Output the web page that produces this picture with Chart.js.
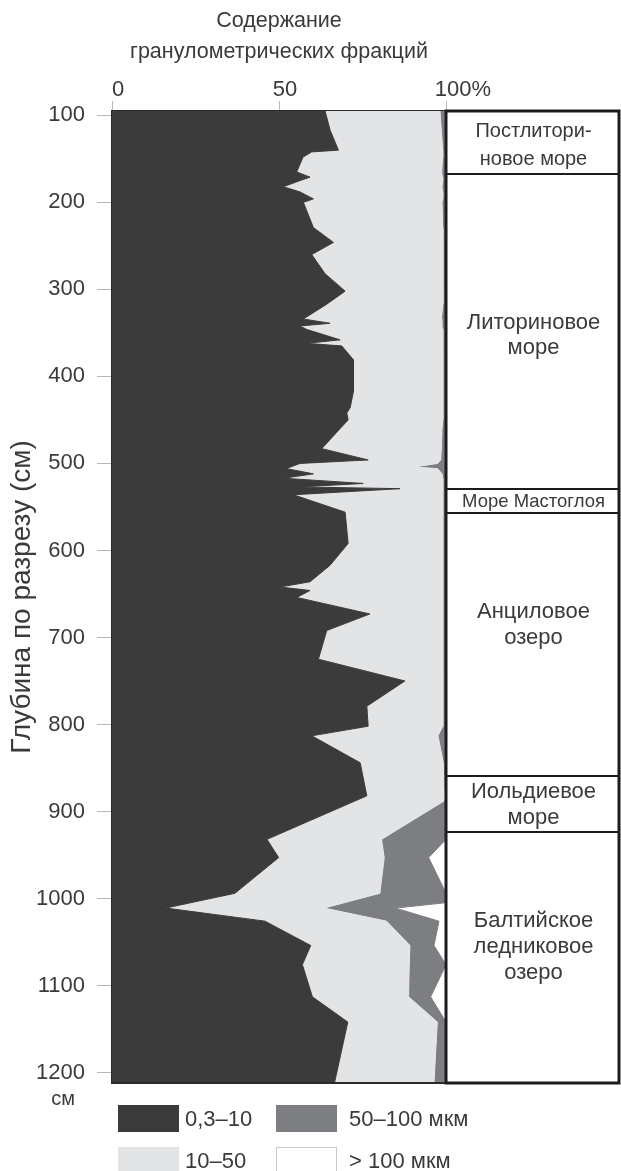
<!DOCTYPE html>
<html lang="ru">
<head>
<meta charset="utf-8">
<title>Гранулометрический состав</title>
<script src="https://cdn.jsdelivr.net/npm/chart.js@4.4.1/dist/chart.umd.min.js"></script>
<style>
  html, body { margin: 0; padding: 0; background: #fff; }
  #wrap { position: relative; width: 621px; height: 1171px; overflow: hidden; font-family: "Liberation Sans", Arial, sans-serif; color: #3a3a3a; }
  #chart { position: absolute; left: 0; top: 0; }
  .lg-item { position: absolute; display: flex; align-items: center; height: 27px; font-size: 22px; white-space: nowrap; }
  .lg-box { width: 61px; height: 27px; box-sizing: border-box; flex: none; }
</style>
</head>
<body>
<div id="wrap">
  <canvas id="chart" width="621" height="1171"></canvas>
  <div id="legend"></div>
</div>
<script>
// Depth of each sample, cm
const depths = [95, 117, 140, 142, 148, 165, 171, 175, 182, 188,
                196, 200, 229, 246, 260, 282, 302, 317, 334, 339,
                342, 346, 358, 362, 365, 381, 417, 436, 442, 450,
                460, 483, 496, 500, 504, 506, 512, 517, 523, 527,
                529, 536, 556, 592, 617, 636, 642, 646, 654, 673,
                692, 725, 750, 779, 802, 813, 844, 882, 888, 932,
                953, 994, 1005, 1011, 1026, 1054, 1076, 1113, 1142, 1212];

// Fraction 0,3–10 µm, %
const clay = [63.8, 65.3, 67.8, 59.8, 57.2, 55.3, 59.3, 56.3, 51.3, 56.3,
              60.3, 57.3, 60.3, 66.3, 59.8, 63.8, 69.8, 64.3, 57.3, 65.3,
              56.3, 58.3, 68.3, 58.3, 68.8, 72.3, 72.3, 71.3, 70.3, 70.7,
              68.3, 62.8, 76.7, 56.3, 53.5, 52.3, 60.3, 51.3, 75.2, 56.3,
              86.2, 54.3, 69.8, 70.7, 65.3, 59.3, 50.3, 59.3, 55.3, 77.2,
              64.3, 61.8, 87.7, 76.3, 76.7, 59.8, 74.3, 76.3, 72.7, 46.4,
              49.9, 36.8, 23.4, 16.1, 45.8, 59.5, 57.0, 60.0, 70.6, 66.6];

// Fraction 10–50 µm, %
const silt = [34.4, 33.3, 31.2, 39.2, 41.8, 43.4, 39.6, 42.7, 47.5, 42.7,
              38.7, 41.5, 38.7, 32.8, 39.3, 35.3, 29.2, 34.7, 41.3, 33.4,
              42.5, 40.7, 30.7, 40.7, 30.2, 26.8, 26.8, 27.8, 28.7, 28.3,
              30.5, 35.8, 21.7, 41.2, 37.0, 45.2, 38.5, 47.7, 23.8, 42.7,
              12.8, 44.8, 29.3, 28.4, 33.7, 39.7, 48.7, 39.7, 43.7, 21.8,
              34.7, 37.3, 11.4, 22.8, 22.3, 37.8, 24.9, 23.2, 26.7, 34.3,
              31.6, 43.4, 46.0, 47.4, 36.4, 29.7, 32.0, 28.8, 26.8, 29.8];

// Fraction 50–100 µm, %
const fineSand = [1.8, 1.4, 1.0, 1.0, 1.0, 1.3, 1.1, 1.0, 1.2, 1.0,
                  1.0, 1.2, 1.0, 0.9, 0.9, 0.9, 1.0, 1.0, 1.4, 1.3,
                  1.2, 1.0, 1.0, 1.0, 1.0, 0.9, 0.9, 0.9, 1.0, 1.0,
                  1.2, 1.4, 1.6, 2.5, 9.5, 2.5, 1.2, 1.0, 1.0, 1.0,
                  1.0, 0.9, 0.9, 0.9, 1.0, 1.0, 1.0, 1.0, 1.0, 1.0,
                  1.0, 0.9, 0.9, 0.9, 1.0, 2.4, 0.8, 0.5, 0.6, 19.3,
                  13.3, 19.8, 30.1, 21.3, 15.7, 7.2, 11.0, 6.6, 2.6, 3.6];

// Fraction > 100 µm, %
const coarseSand = [0, 0, 0, 0, 0, 0, 0, 0, 0, 0,
                    0, 0, 0, 0, 0, 0, 0, 0, 0, 0,
                    0, 0, 0, 0, 0, 0, 0, 0, 0, 0,
                    0, 0, 0, 0, 0, 0, 0, 0, 0, 0,
                    0, 0, 0, 0, 0, 0, 0, 0, 0, 0,
                    0, 0, 0, 0, 0, 0, 0, 0, 0, 0,
                    5.2, 0, 0.5, 15.2, 2.1, 3.6, 0, 4.6, 0, 0];

const fractionNames = ['0,3–10', '10–50', '50–100 мкм', '> 100 мкм'];
const depthTicks = [100, 200, 300, 400, 500, 600, 700, 800, 900, 1000, 1100, 1200];
const percentTicks = [0, 50, 100];

// Stratigraphic units: boundaries (cm) and names
const zoneEdges = [167, 529, 557, 859, 924];
const zoneNames = [
  ['Постлитори-', 'новое море'],
  ['Литориновое', 'море'],
  ['Море Мастоглоя'],
  ['Анциловое', 'озеро'],
  ['Иольдиевое', 'море'],
  ['Балтийское', 'ледниковое', 'озеро']
];
const axisTitle = ['Содержание', 'гранулометрических фракций'];

// ---- styling / layout ----
const FONT = '"Liberation Sans", Arial, sans-serif';
const TEXT = '#3a3a3a';
const fractionColors = ['#3b3b3b', '#e3e4e6', '#7d7e82', '#ffffff'];
const zoneTextDepth = [135, 353, 544, 686, 892, 1056];
const zoneFontSize = [20, 22, 18.5, 22, 22, 22];
const zoneLineHeight = [28, 25, 25, 26, 26, 26];
const legendOrder = [0, 2, 1, 3];

const seriesValues = [clay, silt, fineSand, coarseSand];

const sidePanel = {
  id: 'sidePanel',
  afterDraw(chart) {
    const { ctx, chartArea: a, scales: { y } } = chart;
    const x0 = a.right, x1 = chart.width - 2;
    ctx.save();
    // bottom frame of the plot
    ctx.strokeStyle = '#2a2a2a';
    ctx.lineWidth = 2;
    ctx.beginPath();
    ctx.moveTo(a.left, a.bottom);
    ctx.lineTo(a.right, a.bottom);
    ctx.stroke();
    // unit column
    ctx.fillStyle = '#fff';
    ctx.fillRect(x0 + 1, a.top, x1 - x0 - 1, a.bottom - a.top);
    ctx.strokeStyle = '#1c1c1c';
    ctx.lineWidth = 2;
    zoneEdges.forEach(d => {
      const py = Math.round(y.getPixelForValue(d));
      ctx.beginPath();
      ctx.moveTo(x0, py);
      ctx.lineTo(x1, py);
      ctx.stroke();
    });
    ctx.lineWidth = 3;
    ctx.strokeRect(x0, a.top, x1 - x0, a.bottom - a.top);
    // unit names
    ctx.fillStyle = TEXT;
    ctx.textAlign = 'center';
    ctx.textBaseline = 'middle';
    const cx = (x0 + x1) / 2 + 1;
    zoneNames.forEach((lines, i) => {
      ctx.font = zoneFontSize[i] + 'px ' + FONT;
      const lh = zoneLineHeight[i];
      const cy = y.getPixelForValue(zoneTextDepth[i]);
      const startY = cy - (lines.length - 1) * lh / 2;
      lines.forEach((t, k) => ctx.fillText(t, cx, startY + k * lh));
    });
    // depth unit below the last tick label
    ctx.font = '20px ' + FONT;
    ctx.fillText('см', a.left - 49, y.getPixelForValue(1200) + 27);
    ctx.restore();
  }
};

const chart = new Chart(document.getElementById('chart'), {
  type: 'line',
  data: {
    datasets: seriesValues.map((vals, i) => ({
      label: fractionNames[i],
      data: depths.map((d, k) => ({ x: vals[k], y: d })),
      backgroundColor: fractionColors[i],
      borderColor: fractionColors[i],
      borderWidth: 1,
      pointRadius: 0,
      tension: 0,
      fill: i === 0 ? 'origin' : '-1'
    }))
  },
  options: {
    indexAxis: 'y',
    responsive: false,
    animation: false,
    devicePixelRatio: 1,
    layout: { padding: { left: 0, right: 175, top: 0, bottom: 88 } },
    plugins: {
      legend: { display: false },
      tooltip: { enabled: false }
    },
    scales: {
      x: {
        type: 'linear',
        position: 'top',
        stacked: true,
        min: 0,
        max: 100,
        afterBuildTicks: s => { s.ticks = percentTicks.map(v => ({ value: v })); },
        afterFit: s => { s.height = 111; },
        ticks: {
          color: TEXT,
          font: { family: FONT, size: 22 },
          padding: -2,
          labelOffset: 6,
          // the percent sign trails the number, which stays centred on its tick
          callback: v => (v === 100 ? '\u2003100%' : String(v))
        },
        grid: { drawOnChartArea: false, tickLength: 10, color: '#b8b8b8' },
        border: { display: true, color: '#2a2a2a', width: 2 },
        title: {
          display: true,
          text: axisTitle,
          color: TEXT,
          font: { family: FONT, size: 21.5, lineHeight: 1.42 },
          padding: { top: 6, bottom: 0 }
        }
      },
      y: {
        type: 'linear',
        reverse: true,
        min: 95,
        max: 1212,
        afterBuildTicks: s => { s.ticks = depthTicks.map(v => ({ value: v })); },
        afterFit: s => { s.width = 112; },
        ticks: {
          color: TEXT,
          font: { family: FONT, size: 22 },
          padding: 12,
          callback: v => String(v)
        },
        grid: { drawOnChartArea: false, tickLength: 15, color: '#b8b8b8' },
        border: { display: true, color: '#2a2a2a', width: 2 },
        title: {
          display: true,
          text: 'Глубина по разрезу (см)',
          color: TEXT,
          font: { family: FONT, size: 28, lineHeight: 1.2 },
          padding: { top: 5, bottom: 0 }
        }
      }
    }
  },
  plugins: [sidePanel]
});

// Legend built from the chart's own legend items
const items = chart.options.plugins.legend.labels.generateLabels(chart);
const legendEl = document.getElementById('legend');
const cellLeft = [118, 276];
const rowTop = [1105, 1147];
const textGap = [6, 12];
legendOrder.forEach((idx, pos) => {
  const it = items[idx];
  const col = pos % 2, row = Math.floor(pos / 2);
  const el = document.createElement('div');
  el.className = 'lg-item';
  el.style.left = cellLeft[col] + 'px';
  el.style.top = rowTop[row] + 'px';
  const box = document.createElement('span');
  box.className = 'lg-box';
  box.style.background = it.fillStyle;
  if (idx === 3) box.style.border = '1px solid #c9c9c9';
  const label = document.createElement('span');
  label.textContent = it.text;
  label.style.marginLeft = textGap[col] + 'px';
  el.appendChild(box);
  el.appendChild(label);
  legendEl.appendChild(el);
});
</script>
</body>
</html>
